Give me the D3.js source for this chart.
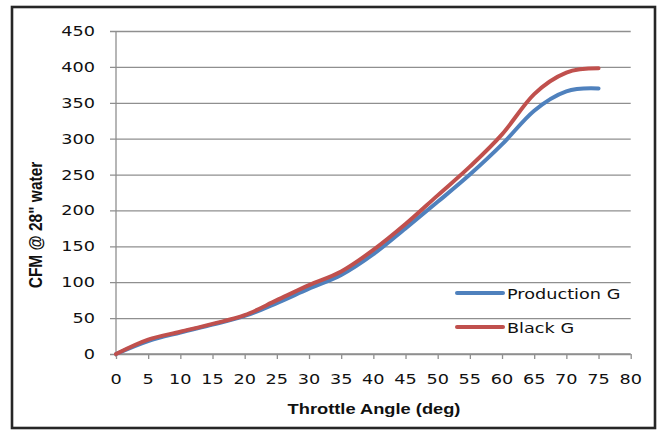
<!DOCTYPE html>
<html>
<head>
<meta charset="utf-8">
<script src="https://cdn.jsdelivr.net/npm/d3@7"></script>
<style>
  html, body { margin: 0; padding: 0; background: #fff; }
  svg { display: block; }
</style>
</head>
<body>
<svg id="chart" width="657" height="430"></svg>
<script>
// ---- data ----
const throttleAngles = [0, 5, 10, 15, 20, 25, 30, 35, 40, 45, 50, 55, 60, 65, 70, 75];
const productionG   = [0, 18, 30, 41, 53, 71, 91, 110, 139, 175, 212, 250, 292, 339, 366, 370];
const blackG        = [0, 20, 31, 42, 54, 75, 96, 115, 145, 181, 221, 261, 306, 362, 392, 398];
const seriesNames = ["Production G", "Black G"];
const seriesColors = ["#4F81BD", "#C0504D"];
const xTicks = [0, 5, 10, 15, 20, 25, 30, 35, 40, 45, 50, 55, 60, 65, 70, 75, 80];
const yTicks = [0, 50, 100, 150, 200, 250, 300, 350, 400, 450];
const xTitle = "Throttle Angle (deg)";
const yTitle = "CFM @ 28\" water";

const svg = d3.select("#chart");
const SX = 1.22; // horizontal stretch of the original image text

// outer frame
svg.append("rect")
  .attr("x", 12).attr("y", 7).attr("width", 643).attr("height", 421)
  .attr("fill", "#fff").attr("stroke", "#262626").attr("stroke-width", 2.6);

const x = d3.scaleLinear().domain([0, 80]).range([116, 630.7]);
const y = d3.scaleLinear().domain([0, 450]).range([354, 31]);

const gridColor = "#8f8f8f";

// horizontal gridlines (with left tick stubs)
svg.append("g")
  .attr("transform", "translate(116,0)")
  .call(d3.axisLeft(y).tickValues(yTicks).tickSize(6).tickFormat(""))
  .call(g => g.select(".domain").remove())
  .call(g => g.selectAll("line").attr("stroke", gridColor).attr("stroke-width", 1.3)
      .attr("x2", -6).attr("x1", x(80) - 116));

// y axis line
svg.append("line")
  .attr("x1", 116).attr("x2", 116).attr("y1", y(450)).attr("y2", y(0) + 3)
  .attr("stroke", gridColor).attr("stroke-width", 1.3);

// x axis
svg.append("g")
  .attr("transform", `translate(0,${y(0)})`)
  .call(d3.axisBottom(x).tickValues(xTicks).tickSize(5).tickFormat(""))
  .call(g => g.select(".domain").attr("stroke", gridColor).attr("stroke-width", 1.3).attr("d", `M${x(0)},0H${x(80)}`))
  .call(g => g.selectAll("line").attr("stroke", gridColor).attr("stroke-width", 1.3));

const tickFont = "'DejaVu Sans', Verdana, sans-serif";

// y tick labels
svg.append("g").selectAll("text").data(yTicks).enter().append("text")
  .attr("transform", d => `translate(95,${y(d) + 5}) scale(${SX},1)`)
  .attr("text-anchor", "end")
  .attr("font-family", tickFont).attr("font-size", 14.5).attr("fill", "#111")
  .text(d => d);

// x tick labels
svg.append("g").selectAll("text").data(xTicks).enter().append("text")
  .attr("transform", d => `translate(${x(d)},384) scale(${SX},1)`)
  .attr("text-anchor", "middle")
  .attr("font-family", tickFont).attr("font-size", 14.5).attr("fill", "#111")
  .text(d => d);

// axis titles
svg.append("text")
  .attr("transform", `translate(374,413.5) scale(1.18,1)`)
  .attr("text-anchor", "middle")
  .attr("font-family", "'Liberation Sans', Arial, sans-serif").attr("font-weight", "bold")
  .attr("font-size", 15.5).attr("fill", "#111")
  .text(xTitle);

svg.append("text")
  .attr("transform", `translate(41.5,225) scale(1.18,1) rotate(-90)`)
  .attr("text-anchor", "middle")
  .attr("font-family", "'Liberation Sans', Arial, sans-serif").attr("font-weight", "bold")
  .attr("font-size", 15.5).attr("fill", "#111")
  .text(yTitle);

// lines
const line = d3.line()
  .x((d, i) => x(throttleAngles[i]))
  .y(d => y(d))
  .curve(d3.curveCardinal.tension(0));

[productionG, blackG].forEach((vals, k) => {
  svg.append("path")
    .datum(vals)
    .attr("d", line)
    .attr("fill", "none")
    .attr("stroke", seriesColors[k])
    .attr("stroke-width", 4)
    .attr("stroke-linecap", "round")
    .attr("stroke-linejoin", "round");
});

// legend
const legY = [293, 327];
seriesNames.forEach((name, k) => {
  svg.append("line")
    .attr("x1", 457).attr("x2", 503).attr("y1", legY[k]).attr("y2", legY[k])
    .attr("stroke", seriesColors[k]).attr("stroke-width", 4).attr("stroke-linecap", "round");
  svg.append("text")
    .attr("transform", `translate(507,${legY[k] + 6}) scale(${SX},1)`)
    .attr("font-family", tickFont).attr("font-size", 14.5).attr("fill", "#111")
    .text(name);
});
</script>
</body>
</html>
